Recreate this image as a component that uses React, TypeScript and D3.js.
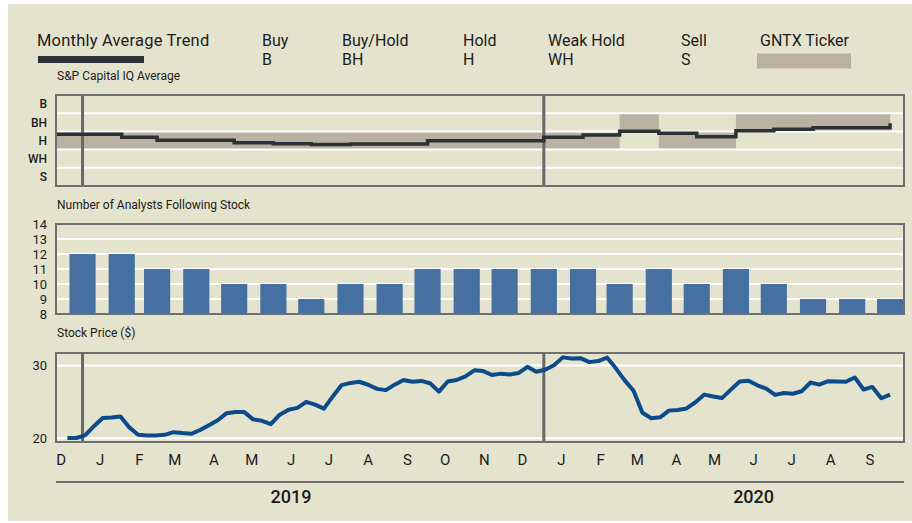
import React from "react";
import * as d3 from "d3";

const W = 912;
const H = 523;

// ---------- DATA ----------
const ratingCodes = ["S", "WH", "H", "BH", "B"]; // values 1..5
const legendNames = ["Buy", "Buy/Hold", "Hold", "Weak Hold", "Sell"];
const legendCodes = ["B", "BH", "H", "WH", "S"];

const trendMonths = [
  "2018-12", "2019-01", "2019-02", "2019-03", "2019-04", "2019-05", "2019-06",
  "2019-07", "2019-08", "2019-09", "2019-10", "2019-11", "2019-12", "2020-01",
  "2020-02", "2020-03", "2020-04", "2020-05", "2020-06", "2020-07", "2020-08",
  "2020-09", "2020-10",
];
const trendValues = [
  3.34, 3.34, 3.18, 3.01, 3.01, 2.88, 2.82, 2.78, 2.81, 2.81, 2.99, 2.99, 2.99,
  3.18, 3.3, 3.51, 3.4, 3.21, 3.54, 3.62, 3.7, 3.7, 3.95,
];

const tickerStarts = ["2018-12-01", "2020-03-01", "2020-04-01", "2020-06-01"];
const tickerEnds = ["2020-03-01", "2020-04-01", "2020-06-01", "2020-10-01"];
const tickerRatings = [3, 4, 3, 4];

const analystMonths = [
  "2019-01", "2019-02", "2019-03", "2019-04", "2019-05", "2019-06", "2019-07",
  "2019-08", "2019-09", "2019-10", "2019-11", "2019-12", "2020-01", "2020-02",
  "2020-03", "2020-04", "2020-05", "2020-06", "2020-07", "2020-08", "2020-09",
  "2020-10",
];
const analystCounts = [12, 12, 11, 11, 10, 10, 9, 10, 10, 11, 11, 11, 11, 11, 10, 11, 10, 11, 10, 9, 9, 9];
const analystTicks = [8, 9, 10, 11, 12, 13, 14];

const priceStart = "2018-12-20"; // weekly closes
const priceValues = [
  20.05, 20.05, 20.42, 21.67, 22.8, 22.85, 23.0, 21.5, 20.5, 20.38,
  20.4, 20.48, 20.85, 20.72, 20.62, 21.15, 21.8, 22.48, 23.45, 23.6,
  23.6, 22.6, 22.4, 21.95, 23.25, 23.93, 24.18, 25.0, 24.63, 24.07,
  25.75, 27.3, 27.6, 27.76, 27.35, 26.78, 26.61, 27.36, 28.0, 27.75,
  27.87, 27.55, 26.4, 27.8, 28.0, 28.5, 29.33, 29.22, 28.68, 28.87,
  28.74, 28.95, 29.8, 29.13, 29.41, 30.02, 31.1, 30.95, 30.99, 30.45,
  30.6, 31.08, 29.6, 27.95, 26.52, 23.5, 22.75, 22.88, 23.8, 23.9,
  24.1, 24.95, 26.0, 25.74, 25.52, 26.68, 27.78, 27.89, 27.27, 26.82,
  25.96, 26.22, 26.11, 26.45, 27.65, 27.37, 27.83, 27.8, 27.76, 28.35,
  26.7, 27.05, 25.5, 26.0,
];
const priceTicks = [20, 30];

const axisFirstMonth = "2018-12-01";
const axisEndMonth = "2020-10-01";
const yearLabels = ["2019", "2020"];
const yearSeparators = ["2019-01-01", "2020-01-01"];

// ---------- LAYOUT ----------
const L = 56, R = 904;
const top1 = 95, bot1 = 186;
const top2 = 224, bot2 = 314;
const top3 = 353, bot3 = 442;
const legendX = [262, 342, 463, 548, 681];

const C = {
  bg: "#e4e3ce",
  frame: "#6f6f6f",
  sep: "#686868",
  grid: "#ffffff",
  trend: "#2b3235",
  band: "#b9b2a2",
  bar: "#4570a1",
  line: "#0b4b8c",
  text: "#1c1c1c",
};
const FONT = "Roboto, 'DejaVu Sans', sans-serif";

const parse = d3.timeParse("%Y-%m-%d");
const parseM = d3.timeParse("%Y-%m");

export default function App() {
  const x = d3
    .scaleTime()
    .domain([new Date(2018, 11, 11), new Date(2020, 9, 12)])
    .range([L, R]);

  const yR = d3.scaleLinear().domain([0.5, 5.5]).range([bot1, top1]);
  const yA = d3.scaleLinear().domain([8, 14]).range([bot2, top2]);
  const yP = d3.scaleLinear().domain([19.5, 31.7]).range([bot3, top3]);

  const trendData = trendMonths.map((m, i) => ({ d: parseM(m)!, v: trendValues[i] }));
  const trendPath = d3
    .line<{ d: Date; v: number }>()
    .x((p) => x(p.d))
    .y((p) => yR(p.v))
    .curve(d3.curveStepAfter)(trendData)!;

  const start = parse(priceStart)!;
  const priceData = priceValues.map((v, i) => ({ d: d3.timeDay.offset(start, i * 7), v }));
  const pricePath = d3
    .line<{ d: Date; v: number }>()
    .x((p) => x(p.d))
    .y((p) => yP(p.v))(priceData)!;

  const monthW = (x(new Date(2020, 0, 1)) - x(new Date(2019, 0, 1))) / 12;
  const barW = monthW * 0.68;

  const monthLabelDates = d3
    .timeMonths(parse(axisFirstMonth)!, parse(axisEndMonth)!)
    .map((d) => d3.timeDay.offset(d, 14));
  const fmtMonth = d3.timeFormat("%b");

  return (
    <svg
      width={W}
      height={H}
      style={{ position: "absolute", left: 0, top: 0, background: "#fff" }}
      fontFamily={FONT}
    >
      <defs>
        <clipPath id="clip1">
          <rect x={L} y={top1} width={R - L} height={bot1 - top1} />
        </clipPath>
        <clipPath id="clip3">
          <rect x={L} y={top3} width={R - L} height={bot3 - top3} />
        </clipPath>
      </defs>
      <rect x={8} y={4} width={W - 8} height={517} fill={C.bg} />

      {/* Legend */}
      <text x={37} y={46} fontSize={16.5} fill={C.text} letterSpacing={0.2}>Monthly Average Trend</text>
      <rect x={38} y={56} width={106} height={7} fill={C.trend} />
      {legendNames.map((n, i) => (
        <g key={n}>
          <text x={legendX[i]} y={46} fontSize={16} fill={C.text}>{n}</text>
          <text x={legendX[i]} y={65} fontSize={16} fill={C.text}>{legendCodes[i]}</text>
        </g>
      ))}
      <text x={760} y={46} fontSize={16} fill={C.text}>GNTX Ticker</text>
      <rect x={757} y={53.5} width={94} height={15} fill={C.band} />

      {/* Panel 1 */}
      <text x={57} y={80} fontSize={12} fill={C.text}>S&amp;P Capital IQ Average</text>
      <g clipPath="url(#clip1)">
        {tickerRatings.map((r, i) => (
          <rect
            key={i}
            x={x(parse(tickerStarts[i])!)}
            y={yR(r + 0.5)}
            width={x(parse(tickerEnds[i])!) - x(parse(tickerStarts[i])!)}
            height={yR(r - 0.5) - yR(r + 0.5)}
            fill={C.band}
          />
        ))}
      </g>
      {[1.5, 2.5, 3.5, 4.5].map((v) => (
        <line key={v} x1={L} x2={R} y1={yR(v)} y2={yR(v)} stroke={C.grid} strokeWidth={2} />
      ))}
      {yearSeparators.map((s) => (
        <line key={s} x1={x(parse(s)!)} x2={x(parse(s)!)} y1={top1} y2={bot1} stroke={C.sep} strokeWidth={3} />
      ))}
      <g clipPath="url(#clip1)">
        <path d={trendPath} fill="none" stroke={C.trend} strokeWidth={3.5} />
      </g>
      <rect x={L} y={top1} width={R - L} height={bot1 - top1} fill="none" stroke={C.frame} strokeWidth={2} />
      {ratingCodes.map((c, i) => (
        <text key={c} x={47} y={yR(i + 1)} dy="0.35em" textAnchor="end" fontSize={12} fontWeight={500} fill={C.text}>
          {c}
        </text>
      ))}

      {/* Panel 2 */}
      <text x={57} y={209} fontSize={12} fill={C.text}>Number of Analysts Following Stock</text>
      {analystTicks.slice(1, -1).map((t) => (
        <line key={t} x1={L} x2={R} y1={yA(t)} y2={yA(t)} stroke={C.grid} strokeWidth={2} />
      ))}
      {analystCounts.map((v, i) => {
        const cx = x(parseM(analystMonths[i])!);
        return <rect key={i} x={cx - barW / 2} y={yA(v)} width={barW} height={yA(8) - yA(v)} fill={C.bar} />;
      })}
      <rect x={L} y={top2} width={R - L} height={bot2 - top2} fill="none" stroke={C.frame} strokeWidth={2} />
      {analystTicks.map((t) => (
        <text key={t} x={47} y={yA(t)} dy="0.35em" textAnchor="end" fontSize={13} fill={C.text}>
          {t}
        </text>
      ))}

      {/* Panel 3 */}
      <text x={57} y={337} fontSize={12} fill={C.text}>Stock Price ($)</text>
      {priceTicks.map((t) => (
        <line key={t} x1={L} x2={R} y1={yP(t)} y2={yP(t)} stroke={C.grid} strokeWidth={2} />
      ))}
      {yearSeparators.map((s) => (
        <line key={s} x1={x(parse(s)!)} x2={x(parse(s)!)} y1={top3} y2={bot3} stroke={C.sep} strokeWidth={3} />
      ))}
      <g clipPath="url(#clip3)">
        <path d={pricePath} fill="none" stroke={C.line} strokeWidth={4} strokeLinejoin="round" />
      </g>
      <rect x={L} y={top3} width={R - L} height={bot3 - top3} fill="none" stroke={C.frame} strokeWidth={2} />
      {priceTicks.map((t) => (
        <text key={t} x={47} y={yP(t)} dy="0.35em" textAnchor="end" fontSize={13} fill={C.text}>
          {t}
        </text>
      ))}

      {/* Month axis */}
      {monthLabelDates.map((d, i) => (
        <text key={i} x={x(d)} y={465} textAnchor="middle" fontSize={15} fill={C.text}>
          {fmtMonth(d).charAt(0)}
        </text>
      ))}
      <line x1={L} x2={R} y1={482} y2={482} stroke={C.frame} strokeWidth={2} />
      {yearLabels.map((yl) => (
        <text key={yl} x={x(new Date(+yl, 5, 15))} y={503} textAnchor="middle" fontSize={18} fontWeight={500} fill={C.text}>
          {yl}
        </text>
      ))}
    </svg>
  );
}
